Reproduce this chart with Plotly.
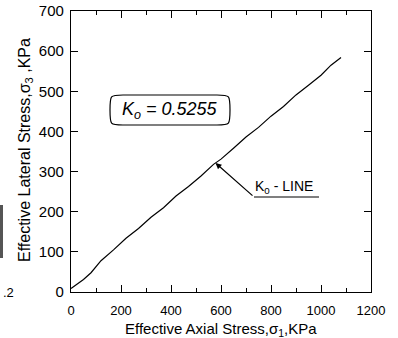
import numpy as np
import plotly.graph_objects as go

# data
axial_stress = [0, 15, 50, 80, 120, 170, 220, 270, 320, 370, 420, 470, 520, 570,
                600, 650, 700, 750, 800, 850, 900, 950, 1000, 1040, 1080]
lateral_stress = [9, 15, 31, 48, 78, 105, 134, 158, 186, 210, 239, 263, 289, 318,
                  331, 358, 386, 410, 438, 462, 491, 515, 540, 565, 584]
x_ticks = [0, 200, 400, 600, 800, 1000, 1200]
y_ticks = [0, 100, 200, 300, 400, 500, 600, 700]
k0_value = "0.5255"
arrow_x = 578

W, H = 398, 338
L, R, T, B = 71, 27, 11, 46
PW, PH = W - L - R, H - T - B

def px(xp):
    return (xp - L) / PW

def py(yp):
    return (H - B - yp) / PH

fig = go.Figure()
fig.add_trace(go.Scatter(x=axial_stress, y=lateral_stress, mode="lines",
                         line=dict(color="black", width=1.2), hoverinfo="skip",
                         showlegend=False))

font = "Arial, Liberation Sans, sans-serif"
fig.update_layout(
    width=W, height=H,
    margin=dict(l=L, r=R, t=T, b=B, pad=0),
    paper_bgcolor="white", plot_bgcolor="white",
    showlegend=False,
    xaxis=dict(range=[0, 1200], tickvals=x_ticks, ticks="inside", ticklen=7,
               tickwidth=1, tickcolor="black", automargin=False,
               minor=dict(dtick=100, ticks="inside", ticklen=4, tickcolor="black"),
               showline=True, linecolor="black", linewidth=1.2, mirror="ticks",
               showgrid=False, zeroline=False, ticklabelstandoff=6,
               tickfont=dict(family=font, size=13, color="black")),
    yaxis=dict(range=[0, 700], tickvals=y_ticks, ticks="inside", ticklen=7,
               tickwidth=1, tickcolor="black", automargin=False,
               showline=True, linecolor="black", linewidth=1.2, mirror="ticks",
               showgrid=False, zeroline=False, ticklabelstandoff=3,
               tickfont=dict(family=font, size=15, color="black")),
)

# axis titles as annotations
fig.add_annotation(x=px(221), y=py(329), xref="paper", yref="paper",
                   xanchor="center", yanchor="middle",
                   text="Effective Axial Stress,σ<sub>1</sub>,KPa",
                   showarrow=False, font=dict(family=font, size=15, color="black"))
fig.add_annotation(x=px(25), y=py(150), xref="paper", yref="paper",
                   xanchor="center", yanchor="middle", textangle=-90,
                   text="Effective Lateral Stress,σ<sub>3</sub> ,KPa",
                   showarrow=False, font=dict(family=font, size=16, color="black"))

# rounded box around K0 text
x0, x1, y0, y1 = px(110), px(230), py(125), py(95)
rx, ry = 13 / PW, 15 / PH
path = (f"M {x0+rx},{y0} L {x1-rx},{y0} C {x1},{y0} {x1},{y0} {x1},{y0+ry} "
        f"L {x1},{y1-ry} C {x1},{y1} {x1},{y1} {x1-rx},{y1} "
        f"L {x0+rx},{y1} C {x0},{y1} {x0},{y1} {x0},{y1-ry} "
        f"L {x0},{y0+ry} C {x0},{y0} {x0},{y0} {x0+rx},{y0} Z")
fig.add_shape(type="path", path=path, xref="paper", yref="paper",
              line=dict(color="black", width=1.2))
fig.add_annotation(x=(x0 + x1) / 2, y=(y0 + y1) / 2, xref="paper", yref="paper",
                   xanchor="center", yanchor="middle",
                   text=f"<i>K<sub>o</sub> = {k0_value}</i>", showarrow=False,
                   font=dict(family=font, size=18, color="black"))

# K0-LINE label with leader
fig.add_annotation(x=px(253), y=py(198), xref="paper", yref="paper",
                   xanchor="left", yanchor="bottom",
                   text="K<sub>0</sub> - LINE", showarrow=False,
                   font=dict(family=font, size=14, color="black"))
fig.add_shape(type="line", xref="paper", yref="paper",
              x0=px(254), x1=px(319), y0=py(197), y1=py(197),
              line=dict(color="black", width=1.2))
arrow_y = float(np.interp(arrow_x, axial_stress, lateral_stress))
tail_x = (254 - L) / PW * 1200
tail_y = (H - B - 197) / PH * 700
fig.add_annotation(x=arrow_x, y=arrow_y, xref="x", yref="y", text="",
                   showarrow=True, ax=tail_x, ay=tail_y, axref="x", ayref="y",
                   arrowhead=2, arrowsize=1, arrowwidth=1.2, arrowcolor="black",
                   standoff=0)

# artifacts at left edge (neighbouring figure)
fig.add_annotation(x=px(1), y=py(292), xref="paper", yref="paper", text=".2",
                   xanchor="left", yanchor="middle",
                   showarrow=False, font=dict(family=font, size=13, color="black"))
fig.add_shape(type="line", xref="paper", yref="paper",
              x0=px(1.5), x1=px(1.5), y0=py(205), y1=py(258),
              line=dict(color="#555555", width=3))

fig.write_html("out.html")
